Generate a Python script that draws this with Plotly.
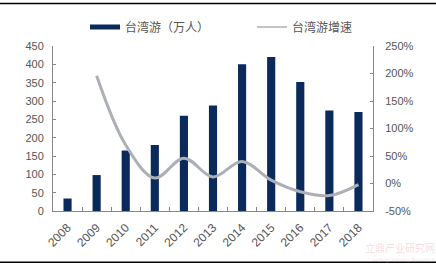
import plotly.graph_objects as go

years = ["2008", "2009", "2010", "2011", "2012", "2013", "2014", "2015", "2016", "2017", "2018"]
visitors = [34, 98, 165, 180, 260, 288, 400, 420, 352, 274, 270]
growth_years = ["2009", "2010", "2011", "2012", "2013", "2014", "2015", "2016", "2017", "2018"]
growth = [196, 70, 10, 46, 12, 40, 6, -15, -22, -2]
left_ticks = [0, 50, 100, 150, 200, 250, 300, 350, 400, 450]
right_ticks = [-50, 0, 50, 100, 150, 200, 250]
right_labels = ["-50%", "0%", "50%", "100%", "150%", "200%", "250%"]

font_fam = "Liberation Sans, Noto Sans CJK SC, sans-serif"
cjk = "Noto Sans CJK SC, sans-serif"
navy = "#0b2a5c"
gray_line = "#acb0b6"

fig = go.Figure()
fig.add_trace(go.Scatter(x=[None], y=[None], name="台湾游（万人）", mode="lines",
                         line=dict(color=navy, width=5), yaxis="y", legend="legend"))
fig.add_trace(go.Scatter(x=[None], y=[None], name="台湾游增速", mode="lines",
                         line=dict(color=gray_line, width=1.5), yaxis="y2", legend="legend2"))
fig.add_trace(go.Bar(x=years, y=visitors, name="台湾游（万人）", showlegend=False,
                     marker=dict(color=navy, line=dict(width=0)), yaxis="y"))
fig.add_trace(go.Scatter(x=growth_years, y=growth, name="台湾游增速", mode="lines", showlegend=False,
                         line=dict(color=gray_line, width=3, shape="spline", smoothing=1.0),
                         yaxis="y2"))

leg_common = dict(orientation="h", xanchor="left", yanchor="middle", y=1.115,
                  font=dict(family=cjk, size=12, color="#555555"),
                  bgcolor="rgba(0,0,0,0)", borderwidth=0)

fig.update_layout(
    width=436, height=264,
    margin=dict(l=53, r=63, t=44, b=53),
    paper_bgcolor="white", plot_bgcolor="white",
    bargap=0.72,
    font=dict(family=font_fam, size=11, color="#555555"),
    showlegend=True,
    legend=dict(x=0.1, **leg_common),
    legend2=dict(x=0.622, **leg_common),
    xaxis=dict(type="category", showline=True, linecolor="#888888", linewidth=1,
               ticks="inside", ticklen=4, tickcolor="#888888", tickson="boundaries",
               tickangle=-45, tickfont=dict(size=12, color="#555555"),
               ticklabelstandoff=4,
               showgrid=False, zeroline=False),
    yaxis=dict(range=[0, 450], tickvals=left_ticks, showline=True, linecolor="#888888",
               linewidth=1, ticks="inside", ticklen=3, tickcolor="#888888",
               ticklabelstandoff=6,
               showgrid=False, zeroline=False, tickfont=dict(size=11, color="#555555")),
    yaxis2=dict(range=[-50, 250], tickvals=right_ticks, ticktext=right_labels, overlaying="y",
                side="right", showline=True, linecolor="#888888", linewidth=1,
                ticks="inside", ticklen=3, tickcolor="#888888",
                ticklabelstandoff=9,
                showgrid=False, zeroline=False, tickfont=dict(size=11, color="#555555")),
)

fig.add_shape(type="line", xref="paper", yref="paper", x0=-0.2, x1=1.25, y0=1.258, y1=1.258,
              line=dict(color="black", width=1.5))
fig.add_shape(type="line", xref="paper", yref="paper", x0=-0.2, x1=1.25, y0=-0.31, y1=-0.31,
              line=dict(color="black", width=1.5))

fig.add_annotation(xref="paper", yref="paper", x=1.2, y=-0.222, xanchor="right", yanchor="middle",
                   text="立鼎产业研究网", showarrow=False,
                   font=dict(family=cjk, size=10, color="rgba(225,150,155,0.35)"))
fig.add_annotation(xref="paper", yref="paper", x=1.2, y=-0.295, xanchor="right", yanchor="middle",
                   text="Leading Industry Research", showarrow=False,
                   font=dict(family=font_fam, size=5.5, color="rgba(225,150,155,0.35)"))

fig.write_html("out.html")
